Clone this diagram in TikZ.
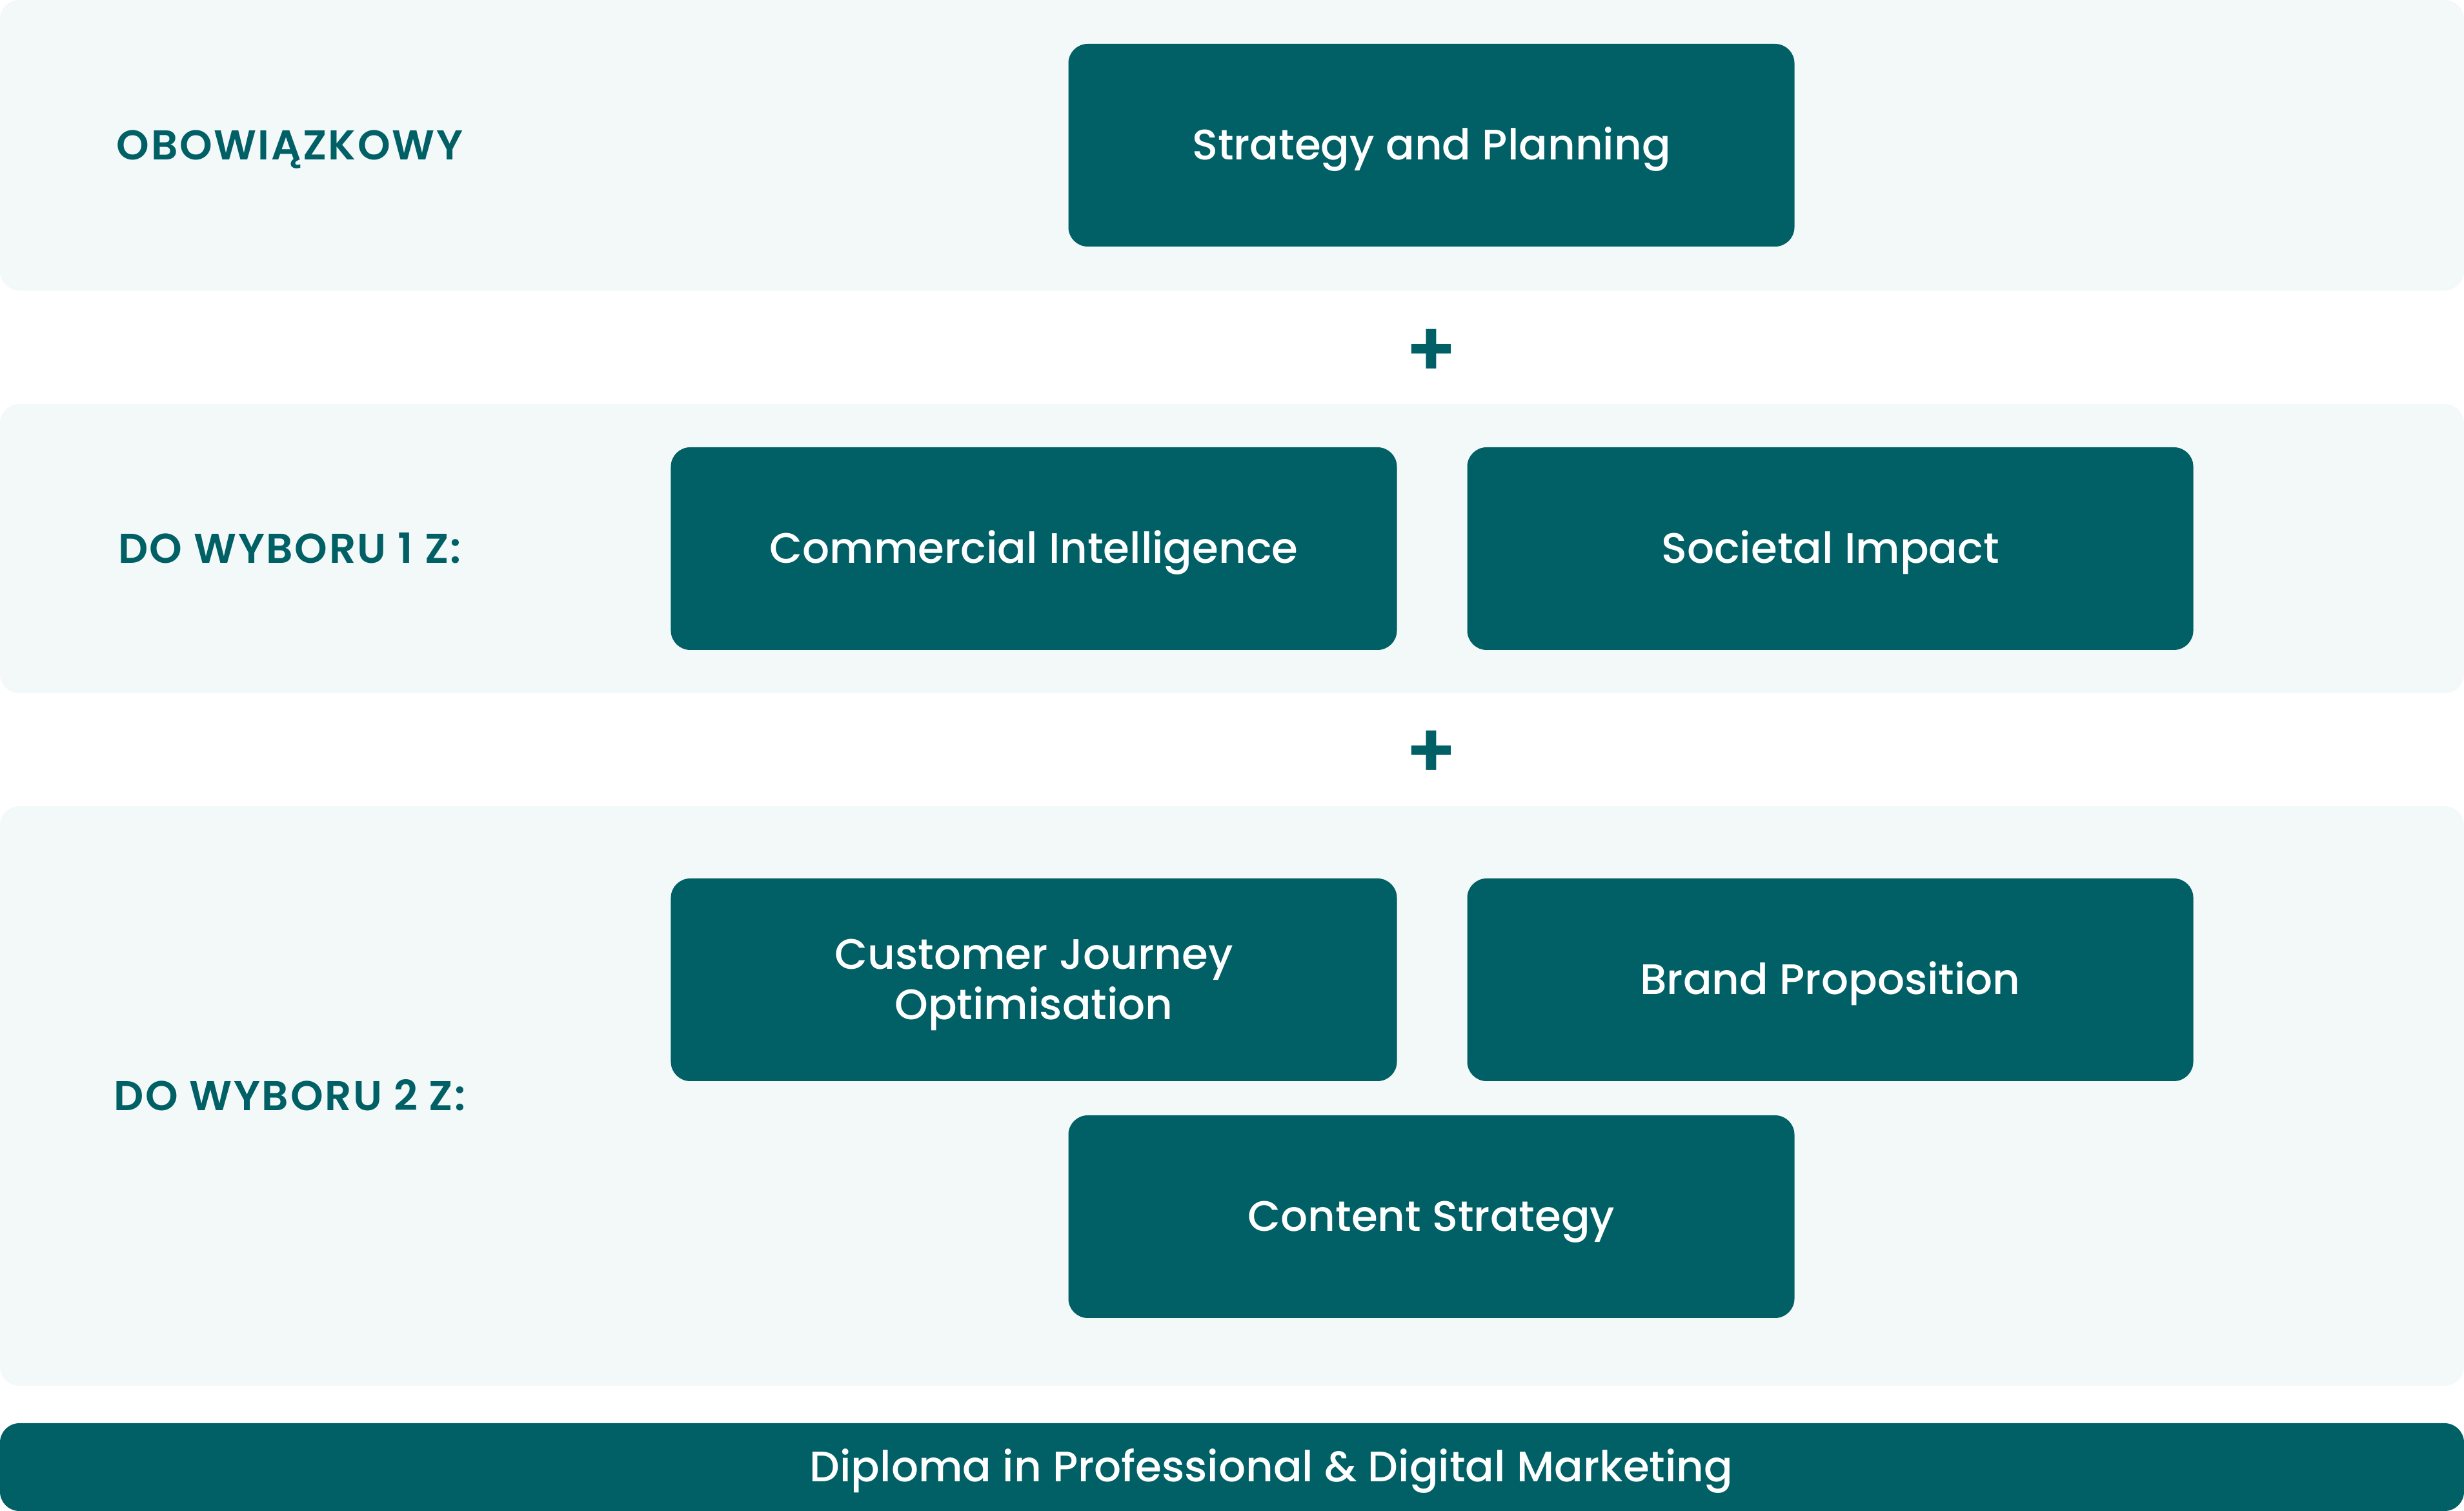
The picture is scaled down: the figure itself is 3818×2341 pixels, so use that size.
\documentclass[tikz,border=0pt]{standalone}
\usepackage{fontspec}
\setmainfont{Poppins}[UprightFont=* Medium, BoldFont=* SemiBold]
\usetikzlibrary{positioning}
\definecolor{darkteal}{RGB}{0,96,102}
\definecolor{bandgray}{RGB}{243,248,248}
\tikzstyle{band} = [rectangle, rounded corners=6pt, minimum width=763.6pt, inner sep=0pt, fill=bandgray]
\tikzstyle{course} = [rectangle, rounded corners=6pt, minimum width=225pt, minimum height=62.8pt, inner sep=0pt, align=center, fill=darkteal, text=white, text height=9pt, text depth=0pt, font=\fontsize{13.2}{15.6}\selectfont]
\tikzstyle{grouplabel} = [text=darkteal, text height=9pt, text depth=0pt, font=\fontsize{12.9}{15.6}\selectfont\bfseries\addfontfeatures{LetterSpace=4}]
\tikzstyle{plussign} = [text=darkteal, font=\fontsize{24}{24}\selectfont\bfseries]

\begin{document}
\begin{tikzpicture}[x=0.2pt, y=-0.2pt]
\useasboundingbox (0,0) rectangle (3818,2341);

% Bands
\node (band1) [band, minimum height=90pt] at (1909,225) {};
\node (band2) [band, minimum height=89.6pt] at (1909,850) {};
\node (band3) [band, minimum height=179.6pt] at (1909,1698) {};

% Group labels
\node (mand) [grouplabel] at (449,225) {OBOWIĄZKOWY};
\node (pick1) [grouplabel] at (449,850) {DO WYBORU 1 Z:};
\node (pick2) [grouplabel] at (449,1698) {DO WYBORU 2 Z:};

% Courses
\node (strat) [course] at (2218,225) {Strategy and Planning};
\node (comm) [course] at (1602,850) {Commercial Intelligence};
\node (soc) [course, right=21.4pt of comm] {Societal Impact};
\node (cust) [course, text height=24.6pt] at (1602,1518) {Customer Journey\\Optimisation};
\node (brand) [course, right=21.4pt of cust] {Brand Proposition};
\node (cont) [course] at (2218,1885) {Content Strategy};

% Plus signs
\node (plus1) [plussign] at (2218,547) {+};
\node (plus2) [plussign] at (2218,1169) {+};

% Diploma bar
\node (dipl) [rectangle, rounded corners=6pt, minimum width=763.6pt, minimum height=27.2pt, inner sep=0pt, fill=darkteal] at (1909,2273) {};
\node (diptext) [text=white, text height=9pt, text depth=0pt, font=\fontsize{13.2}{15.6}\selectfont] at (1970,2273) {Diploma in Professional \& Digital Marketing};

\end{tikzpicture}
\end{document}
